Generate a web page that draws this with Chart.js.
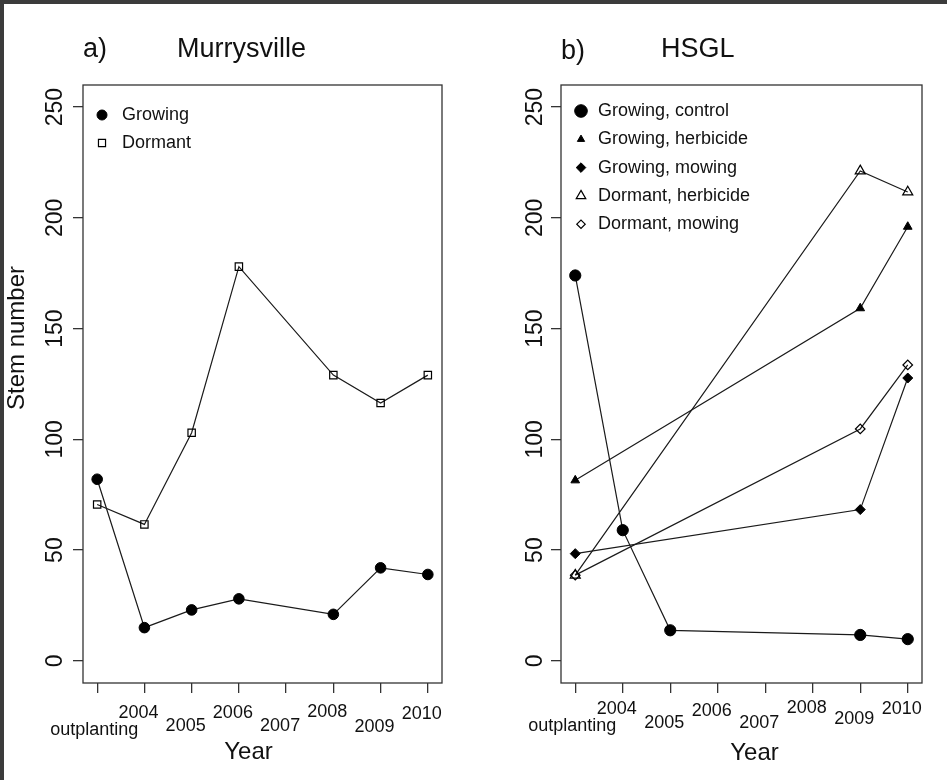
<!DOCTYPE html>
<html><head><meta charset="utf-8">
<script src="https://cdn.jsdelivr.net/npm/chart.js@4.4.1/dist/chart.umd.min.js"></script>
<style>
html,body{margin:0;padding:0;}
body{width:947px;height:780px;background:#3b3b3b;position:relative;overflow:hidden;}
#paper{position:absolute;left:4px;top:4px;width:943px;height:776px;background:#fff;}
canvas{position:absolute;top:0;}
#ca{left:0;}
#cb{left:480px;}
</style></head><body>
<div id="paper"></div>
<canvas id="ca" width="480" height="780"></canvas>
<canvas id="cb" width="467" height="780"></canvas>
<script>
// ---------- data ----------
const X_LABELS = ['outplanting', '2004', '2005', '2006', '2007', '2008', '2009', '2010'];
const Y_TICKS = [0, 50, 100, 150, 200, 250];

// a) Murrysville
const MUR_GROWING = [82, 15, 23, 28, null, 21, 42, 39];
const MUR_DORMANT = [70.6, 61.6, 103, 178, null, 129, 116.4, 129];

// b) HSGL
const HSGL_GROWING_CONTROL   = [174, 59, 13.8, null, null, null, 11.7, 9.8];
const HSGL_GROWING_HERBICIDE = [81.5, null, null, null, null, null, 159.2, 196];
const HSGL_GROWING_MOWING    = [48.4, null, null, null, null, null, 68.3, 127.7];
const HSGL_DORMANT_HERBICIDE = [38.7, null, null, null, null, null, 221.2, 211.7];
const HSGL_DORMANT_MOWING    = [38.7, null, null, null, null, null, 104.7, 133.6];

// ---------- helpers ----------
const FONT = '"Liberation Sans", Arial, Helvetica, sans-serif';
const INK = '#111';
function pts(arr) { return arr.map((v, i) => v == null ? null : { x: i, y: v }).filter(Boolean); }

function series(label, arr, style, radius, filled) {
  return {
    label, data: pts(arr),
    borderColor: '#1a1a1a', borderWidth: 1.2,
    pointStyle: style, pointRadius: radius, pointHoverRadius: radius,
    pointBackgroundColor: filled ? '#000' : 'rgba(0,0,0,0)',
    pointBorderColor: '#000', pointBorderWidth: filled ? 1 : 1.2,
    fill: false, tension: 0, clip: false
  };
}

function drawMarker(ctx, ds, x, y, r) {
  ctx.save();
  ctx.fillStyle = ds.pointBackgroundColor;
  ctx.strokeStyle = ds.pointBorderColor;
  ctx.lineWidth = ds.pointBorderWidth;
  if (Chart.helpers && Chart.helpers.drawPoint) {
    Chart.helpers.drawPoint(ctx, { pointStyle: ds.pointStyle, radius: r, borderWidth: ds.pointBorderWidth, rotation: 0 }, x, y);
  } else {
    ctx.beginPath(); ctx.arc(x, y, r, 0, Math.PI * 2); ctx.fill(); ctx.stroke();
  }
  ctx.restore();
}

const decor = {
  id: 'decor',
  afterDraw(chart, args, o) {
    const { ctx, chartArea: a } = chart;
    const xs = chart.scales.x, ys = chart.scales.y;
    ctx.save();
    // plot box
    ctx.strokeStyle = '#333'; ctx.lineWidth = 1.3;
    ctx.strokeRect(a.left, a.top, a.right - a.left, a.bottom - a.top);
    ctx.fillStyle = INK;
    // y tick labels (rotated)
    ctx.font = `23px ${FONT}`;
    ys.ticks.forEach(t => {
      const y = ys.getPixelForValue(t.value);
      ctx.save();
      ctx.translate(a.left + o.yLabelDx, y);
      ctx.rotate(-Math.PI / 2);
      ctx.textAlign = 'center'; ctx.textBaseline = 'middle';
      ctx.fillText(String(t.value), 0, 0);
      ctx.restore();
    });
    // x tick labels (staggered)
    ctx.font = `18px ${FONT}`; ctx.textAlign = 'center'; ctx.textBaseline = 'middle';
    xs.ticks.forEach(t => {
      const i = t.value;
      const x = xs.getPixelForValue(i) + (i === 0 ? -3 : -6);
      ctx.fillText(X_LABELS[i], x, o.xRows[i]);
    });
    // axis titles
    ctx.font = `24px ${FONT}`;
    ctx.fillText('Year', (a.left + a.right) / 2 + o.yearDx, o.yearY);
    if (o.yTitle) {
      ctx.save();
      ctx.translate(o.yTitleX, o.yTitleY);
      ctx.rotate(-Math.PI / 2);
      ctx.fillText(o.yTitle, 0, 0);
      ctx.restore();
    }
    // panel titles
    ctx.font = `27px ${FONT}`; ctx.textAlign = 'left'; ctx.textBaseline = 'alphabetic';
    ctx.fillText(o.tag, o.tagX, o.tagY);
    ctx.fillText(o.title, o.titleX, o.titleY);
    // legend inside plot
    ctx.font = `18px ${FONT}`; ctx.textBaseline = 'middle';
    chart.data.datasets.forEach((ds, k) => {
      const y = a.top + o.legTop + k * o.legStep;
      drawMarker(ctx, ds, a.left + o.legMarkX, y, o.legR[k]);
      ctx.fillStyle = INK;
      ctx.fillText(ds.label, a.left + o.legTextX, y);
    });
    ctx.restore();
  }
};

function makeChart(id, datasets, padRight, yWidth, decorOpts) {
  const tickGrid = { drawOnChartArea: false, drawTicks: true, tickLength: 10, color: '#333', lineWidth: 1.3 };
  return new Chart(document.getElementById(id), {
    type: 'line',
    data: { datasets },
    options: {
      responsive: false, animation: false, devicePixelRatio: 1,
      layout: { padding: { top: 85, right: padRight, left: 0, bottom: 0 } },
      plugins: { legend: { display: false }, tooltip: { enabled: false }, decor: decorOpts },
      scales: {
        x: {
          type: 'linear', min: -0.3, max: 7.3,
          afterBuildTicks: s => { s.ticks = X_LABELS.map((_, i) => ({ value: i })); },
          afterFit: s => { s.height = 97; },
          ticks: { display: false }, grid: tickGrid, border: { display: false }
        },
        y: {
          type: 'linear', min: -10, max: 260,
          afterBuildTicks: s => { s.ticks = Y_TICKS.map(v => ({ value: v })); },
          afterFit: s => { s.width = yWidth; },
          ticks: { display: false }, grid: tickGrid, border: { display: false }
        }
      }
    },
    plugins: [decor]
  });
}

// panel a
makeChart('ca', [
  series('Growing', MUR_GROWING, 'circle', 5.3, true),
  series('Dormant', MUR_DORMANT, 'rect', 5.2, false)
], 38, 83, {
  yLabelDx: -27,
  xRows: [730, 713, 726, 713, 726, 712, 727, 714],
  yearDx: -14, yearY: 752,
  yTitle: 'Stem number', yTitleX: 17, yTitleY: 338,
  tag: 'a)', tagX: 83, tagY: 57,
  title: 'Murrysville', titleX: 177, titleY: 57,
  legTop: 30, legStep: 28, legMarkX: 19, legTextX: 39, legR: [5, 5]
});

// panel b
makeChart('cb', [
  series('Growing, control', HSGL_GROWING_CONTROL, 'circle', 5.6, true),
  series('Growing, herbicide', HSGL_GROWING_HERBICIDE, 'triangle', 5, true),
  series('Growing, mowing', HSGL_GROWING_MOWING, 'rectRot', 5, true),
  series('Dormant, herbicide', HSGL_DORMANT_HERBICIDE, 'triangle', 5.8, false),
  series('Dormant, mowing', HSGL_DORMANT_MOWING, 'rectRot', 4.8, false)
], 25, 81, {
  yLabelDx: -25,
  xRows: [726, 709, 723, 711, 723, 708, 719, 709],
  yearDx: 13, yearY: 753,
  yTitle: null,
  tag: 'b)', tagX: 81, tagY: 59,
  title: 'HSGL', titleX: 181, titleY: 57,
  legTop: 26, legStep: 28.3, legMarkX: 20, legTextX: 37, legR: [6.3, 4.2, 4.8, 5.5, 4.2]
});
</script>
</body></html>
